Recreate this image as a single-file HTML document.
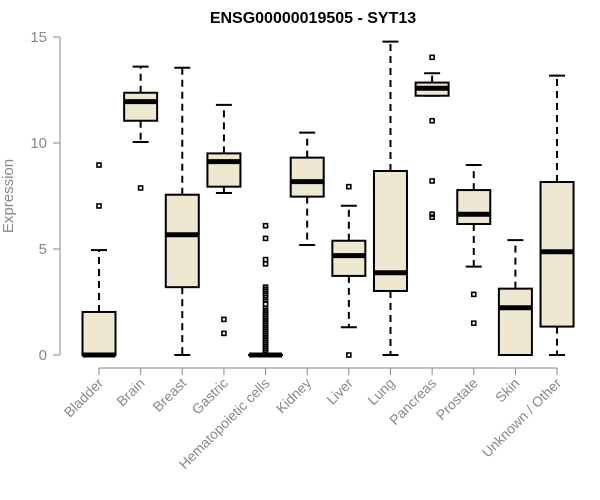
<!DOCTYPE html>
<html><head><meta charset="utf-8"><style>body{margin:0;background:#fff}svg{display:block}text{font-family:"Liberation Sans",Arial,sans-serif}</style></head>
<body>
<svg id="chart" width="600" height="500">
<text x="313" y="23" text-anchor="middle" font-weight="bold" font-size="16">ENSG00000019505 - SYT13</text>
<text transform="translate(13,196) rotate(-90)" text-anchor="middle" font-size="15" fill="#888">Expression</text>
<g id="axes"></g><g id="plot"></g>
</svg>
<script>
const categories=["Bladder","Brain","Breast","Gastric","Hematopoietic cells","Kidney","Liver","Lung","Pancreas","Prostate","Skin","Unknown / Other"];
const whiskLow=[0,10.05,0,7.64,0,5.19,1.31,0,12.23,4.17,0,0];
const q1=[0,11.05,3.2,7.94,0,7.47,3.73,3.02,12.23,6.18,0,1.34];
const medians=[0,11.95,5.67,9.12,0,8.18,4.69,3.88,12.58,6.64,2.23,4.87];
const q3=[2.03,12.37,7.56,9.51,0,9.31,5.39,8.68,12.85,7.78,3.13,8.16];
const whiskHigh=[4.95,13.6,13.55,11.8,0,10.49,7.04,14.78,13.29,8.96,5.42,13.18];
const outliers=[[8.96,7.03],[7.88],[],[1.68,1.02],[6.1,5.5,4.5,4.3,3.2,3.1,3.0,2.9,2.7,2.6,2.4,2.2,2.1,2.0,1.9,1.8,1.7,1.6,1.5,1.4,1.3,1.2,1.1,1.0,0.9,0.8,0.7,0.6,0.5,0.4,0.3,0.2,0.1],[],[7.94,0],[],[14.04,11.05,8.21,6.64,6.5],[2.86,1.5],[],[]];
const yTicks=[0,5,10,15];
const NS="http://www.w3.org/2000/svg";
const y=v=>355-v*21.2;
const x=i=>99+i*41.64;
function mk(p,t,a){const e=document.createElementNS(NS,t);for(const k in a)e.setAttribute(k,a[k]);p.appendChild(e);return e;}
const ax=document.getElementById('axes'),pl=document.getElementById('plot');
let e=mk(ax,'line',{x1:60,x2:60,y1:y(15),y2:y(0),stroke:'#888'});


yTicks.forEach(t=>{mk(ax,'line',{x1:53,x2:60,y1:y(t),y2:y(t),stroke:'#888'});
const l=mk(ax,'text',{x:47,y:y(t)+5,'text-anchor':'end','font-size':15,fill:'#888'});l.textContent=t;

});
e=mk(ax,'line',{x1:x(0),x2:x(11),y1:368,y2:368,stroke:'#888'});


categories.forEach((c,i)=>{const cx=x(i);
mk(ax,'line',{x1:cx,x2:cx,y1:368,y2:375,stroke:'#888'});
const l=mk(ax,'text',{transform:`translate(${cx+5},${384}) rotate(-45)`,'text-anchor':'end','font-size':14,fill:'#888'});l.textContent=c;


const g=mk(pl,'g',{});


const s={stroke:'#000','stroke-width':2};
mk(g,'line',Object.assign({x1:cx,x2:cx,y1:y(q3[i]),y2:y(whiskHigh[i]),'stroke-dasharray':'7,5'},s));
mk(g,'line',Object.assign({x1:cx,x2:cx,y1:y(q1[i]),y2:y(whiskLow[i]),'stroke-dasharray':'7,5'},s));
mk(g,'line',Object.assign({x1:cx-8,x2:cx+8,y1:y(whiskHigh[i]),y2:y(whiskHigh[i])},s));
mk(g,'line',Object.assign({x1:cx-8,x2:cx+8,y1:y(whiskLow[i]),y2:y(whiskLow[i])},s));
mk(g,'rect',Object.assign({x:cx-16.5,y:y(q3[i]),width:33,height:Math.max(0.1,y(q1[i])-y(q3[i])),fill:'#ede8cf'},s));
mk(g,'line',{x1:cx-16.5,x2:cx+16.5,y1:y(medians[i]),y2:y(medians[i]),stroke:'#000','stroke-width':5});
outliers[i].forEach(v=>{const o=mk(g,'rect',{x:cx-2,y:y(v)-2,width:4,height:4,fill:'none',stroke:'#000','stroke-width':1.6});

});
});
</script>
</body></html>
